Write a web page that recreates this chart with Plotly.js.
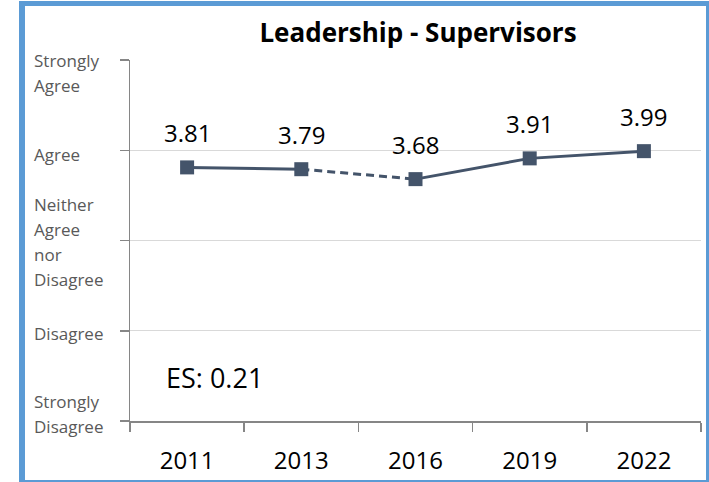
<!DOCTYPE html>
<html>
<head>
<meta charset="utf-8">
<script src="https://cdn.plot.ly/plotly-3.0.1.min.js"></script>
<style>
  html, body { margin: 0; padding: 0; background: #fff; }
  #chart { position: absolute; left: 0; top: 0; width: 709px; height: 482px; }
  #frame { position: absolute; left: 19px; top: 1px; width: 690px; height: 481px; box-sizing: border-box;
           border-left: 6px solid #5B9BD5; border-top: 5px solid #5B9BD5; border-right: 3px solid #5B9BD5;
           border-bottom: 2px solid #5B9BD5; pointer-events: none; }
</style>
</head>
<body>
<div id="chart"></div>
<div id="frame"></div>
<script>
// ---- Data ----
const years = ["2011", "2013", "2016", "2019", "2022"];
const scores = [3.81, 3.79, 3.68, 3.91, 3.99];
const scoreLabels = ["3.81", "3.79", "3.68", "3.91", "3.99"];
const yTickVals = [1, 2, 3, 4, 5];
const yTickLines = [["Strongly", "Disagree"], ["Disagree"], ["Neither", "Agree", "nor", "Disagree"], ["Agree"], ["Strongly", "Agree"]];
const chartTitle = "Leadership - Supervisors";
const effectSize = "ES: 0.21";
// segment styles between consecutive points (index i = from years[i] to years[i+1])
const segmentDash = ["solid", "dash", "solid", "solid"];

// ---- Styling ----
const lineColor = "#44546A";
const FONT = "Open Sans, Noto Sans, sans-serif";
const blockOffset = [7, -2.5, -1, -4.5, -12.5];
const lineGap = 25;

const traces = [];
let start = 0;
for (let i = 1; i <= segmentDash.length; i++) {
  if (i === segmentDash.length || segmentDash[i] !== segmentDash[start]) {
    traces.push({
      x: years.slice(start, i + 1), y: scores.slice(start, i + 1),
      type: "scatter", mode: "lines", hoverinfo: "skip",
      line: { color: lineColor, width: 3, dash: segmentDash[start] === "dash" ? "8px,5px" : "solid" },
      showlegend: false
    });
    start = i;
  }
}
traces.push({
  x: years, y: scores, type: "scatter", mode: "markers",
  marker: { symbol: "square", size: 14, color: lineColor },
  showlegend: false
});

const annotations = [];
years.forEach((yr, i) => {
  annotations.push({
    x: i, y: scores[i], xref: "x", yref: "y", text: scoreLabels[i], showarrow: false,
    yshift: 34.5, xanchor: "center", yanchor: "middle",
    font: { family: FONT, size: 24, color: "#000000" }
  });
});
yTickVals.forEach((v, k) => {
  const lines = yTickLines[k];
  const n = lines.length;
  lines.forEach((txt, i) => {
    annotations.push({
      x: (32 - 130) / 571, xref: "paper", y: v, yref: "y", text: txt, showarrow: false,
      xanchor: "left", yanchor: "middle", align: "left",
      yshift: blockOffset[k] + ((n - 1) / 2 - i) * lineGap,
      font: { family: FONT, size: 17, color: "#595959" }
    });
  });
});
annotations.push({
  x: (214.5 - 130) / 571, xref: "paper", y: (421 - 377) / 361, yref: "paper",
  text: effectSize, showarrow: false, xanchor: "center", yanchor: "middle",
  font: { family: FONT, size: 27, color: "#000000" }
});

const layout = {
  width: 709, height: 482,
  margin: { l: 130, r: 8, t: 60, b: 61, pad: 0 },
  paper_bgcolor: "#ffffff", plot_bgcolor: "#ffffff",
  title: {
    text: "<b>" + chartTitle + "</b>",
    x: 418 / 709, xref: "container", xanchor: "center",
    y: 1 - 33 / 482, yref: "container", yanchor: "middle",
    font: { family: FONT, size: 26, color: "#000000" }
  },
  xaxis: {
    type: "category", categoryorder: "array", categoryarray: years,
    tickson: "boundaries", ticks: "outside", ticklen: 9, tickcolor: "#868686", tickwidth: 1.5,
    showline: true, linecolor: "#868686", linewidth: 1.5, showgrid: false, zeroline: false,
    tickfont: { family: FONT, size: 24, color: "#000000" }, ticklabelstandoff: 18,
    range: [-0.5, 4.5], fixedrange: true
  },
  yaxis: {
    range: [1, 5], tickvals: yTickVals, showticklabels: false,
    ticks: "outside", ticklen: 9, tickcolor: "#868686", tickwidth: 1.5,
    showline: true, linecolor: "#868686", linewidth: 1.5,
    showgrid: true, gridcolor: "#D9D9D9", gridwidth: 1, zeroline: false, fixedrange: true
  },
  annotations: annotations,
  showlegend: false
};

Plotly.newPlot("chart", traces, layout, { displayModeBar: false, staticPlot: true });
</script>
</body>
</html>
